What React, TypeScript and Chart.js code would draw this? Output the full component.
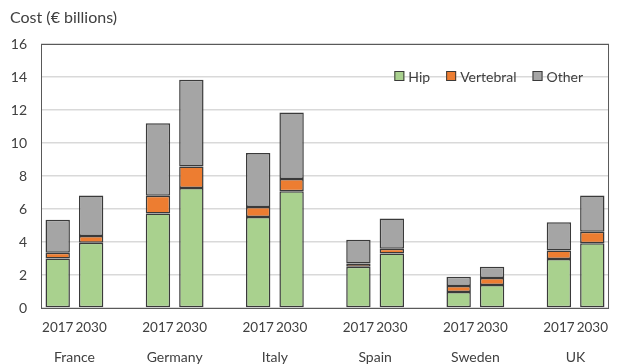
import React, { useEffect, useRef } from 'react';
import { Chart, registerables } from 'chart.js';

Chart.register(...registerables);

const countries = ['France', 'Germany', 'Italy', 'Spain', 'Sweden', 'UK'];
const years = ['2017', '2030'];
// 17 slots: 2017, 2030, gap, ... (no trailing gap)
const hip = [3.0, 3.95, null, 5.72, 7.27, null, 5.52, 7.07, null, 2.5, 3.31, null, 0.97, 1.39, null, 2.97, 3.92];
const vertebral = [0.35, 0.42, null, 1.08, 1.31, null, 0.6, 0.75, null, 0.2, 0.28, null, 0.36, 0.43, null, 0.52, 0.7];
const other = [2.0, 2.45, null, 4.4, 5.26, null, 3.27, 4.03, null, 1.44, 1.84, null, 0.57, 0.68, null, 1.7, 2.2];
const yTicks = [0, 2, 4, 6, 8, 10, 12, 14, 16];
const titleText = 'Cost (€ billions)';

const slotLabels: string[] = [];
countries.forEach((_, i) => {
  slotLabels.push(...years);
  if (i < countries.length - 1) slotLabels.push('');
});
const countryPositions = countries.map((_, i) => i * 3 + 0.5);

const FONT = 'Lato, "Open Sans", sans-serif';
const TEXT = '#404040';

const customPlugin = {
  id: 'custom',
  afterDatasetsDraw(chart: any) {
    const { ctx, chartArea } = chart;
    ctx.save();
    ctx.strokeStyle = '#595959';
    ctx.lineWidth = 1;
    ctx.strokeRect(chartArea.left + 0.5, chartArea.top + 0.5, chartArea.right - chartArea.left - 1, chartArea.bottom - chartArea.top);
    ctx.restore();
  },
  afterDraw(chart: any) {
    const { ctx, chartArea } = chart;
    ctx.save();
    // title
    ctx.font = `16px ${FONT}`;
    ctx.fillStyle = TEXT;
    ctx.textBaseline = 'middle';
    ctx.textAlign = 'left';
    ctx.fillText(titleText, 10, 18);
    // legend
    ctx.font = `14px ${FONT}`;
    const items = chart.data.datasets.map((d: any) => ({ label: d.label, color: d.backgroundColor }));
    const box = 10, gap = 4, spacing = 16;
    const widths = items.map((it: any) => box + gap + ctx.measureText(it.label).width);
    const total = widths.reduce((a: number, b: number) => a + b, 0) + spacing * (items.length - 1);
    let x = chartArea.right - 26 - total;
    const y = chartArea.top + 32;
    items.forEach((it: any, i: number) => {
      ctx.fillStyle = it.color;
      ctx.fillRect(x, y - box / 2, box, box);
      ctx.strokeStyle = '#3a3a3a';
      ctx.lineWidth = 1;
      ctx.strokeRect(x + 0.5, y - box / 2 + 0.5, box - 1, box - 1);
      ctx.fillStyle = TEXT;
      ctx.fillText(it.label, x + box + gap, y + 1);
      x += widths[i] + spacing;
    });
    ctx.restore();
  },
};

export default function App() {
  const ref = useRef<HTMLCanvasElement>(null);
  useEffect(() => {
    document.body.style.margin = '0';
    const common = {
      borderColor: '#3a3a3a',
      borderWidth: 1.5,
      borderSkipped: false,
      barPercentage: 0.73,
      categoryPercentage: 1,
    };
    const chart = new Chart(ref.current!, {
      type: 'bar',
      data: {
        labels: slotLabels,
        datasets: [
          { label: 'Hip', data: hip, backgroundColor: '#a9d18e', ...common },
          { label: 'Vertebral', data: vertebral, backgroundColor: '#ed7d31', ...common },
          { label: 'Other', data: other, backgroundColor: '#a5a5a5', ...common },
        ] as any,
      },
      options: {
        responsive: false,
        animation: false,
        layout: { padding: { top: 44, left: 0, right: 1, bottom: 0 } },
        plugins: { legend: { display: false }, title: { display: false }, tooltip: { enabled: false } },
        scales: {
          x: {
            type: 'category',
            stacked: true,
            position: 'bottom',
            weight: 0,
            grid: { display: false, drawTicks: false },
            border: { display: false },
            ticks: { color: TEXT, font: { family: FONT, size: 13.5 }, padding: 12, autoSkip: false, maxRotation: 0 },
            afterFit: (s: any) => { s.height = 30; },
          },
          x2: {
            type: 'linear',
            position: 'bottom',
            weight: 1,
            offset: false,
            min: -0.5,
            max: slotLabels.length - 0.5,
            grid: { display: false, drawTicks: false, offset: false },
            border: { display: false },
            afterBuildTicks: (s: any) => { s.ticks = countryPositions.map((v) => ({ value: v })); },
            ticks: {
              color: TEXT,
              font: { family: FONT, size: 14 },
              padding: 11,
              autoSkip: false,
              maxRotation: 0,
              callback: (v: any) => countries[countryPositions.indexOf(Number(v))] ?? '',
            },
            afterFit: (s: any) => { s.height = 26; },
          },
          y: {
            stacked: true,
            min: 0,
            max: 16,
            grid: { color: '#d9d9d9', lineWidth: 1.5, drawTicks: false },
            border: { display: false },
            afterBuildTicks: (s: any) => { s.ticks = yTicks.map((v) => ({ value: v })); },
            ticks: { color: TEXT, font: { family: FONT, size: 14 }, padding: 14 },
            afterFit: (s: any) => { s.width = 41; },
          },
        },
      },
      plugins: [customPlugin],
    });
    return () => chart.destroy();
  }, []);
  return <canvas ref={ref} width={620} height={364} style={{ display: 'block' }} />;
}
